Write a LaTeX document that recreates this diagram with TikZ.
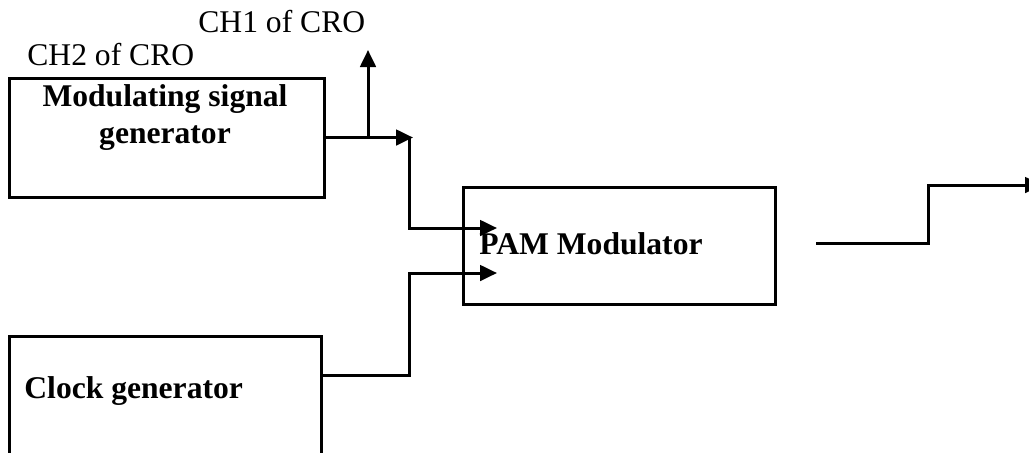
\documentclass[tikz,border=0pt]{standalone}
\usepackage{fontspec}
\setmainfont{Liberation Serif}
\usetikzlibrary{arrows.meta}
\begin{document}
\begin{tikzpicture}[x=0.5pt,y=-0.5pt,
  box/.style={draw,line width=1.5pt,inner sep=0pt},
  wire/.style={line width=1.5pt},
  arr/.style={wire,-{Triangle[length=8.5pt,width=7.8pt]}},
  lbl/.style={inner sep=0pt,font=\fontsize{15.8pt}{18.8pt}\selectfont},
  blbl/.style={lbl,font=\fontsize{15.8pt}{18.8pt}\selectfont\bfseries}]
\useasboundingbox (0,0) rectangle (1029,452);
\clip (0,0) rectangle (1029,452);
% boxes
\node[box,minimum width=157.5pt,minimum height=59.5pt] (msg) at (166.5,137.5) {};
\node[box,minimum width=156pt,minimum height=67pt] (clk) at (165,403) {};
\node[box,minimum width=156pt,minimum height=58.5pt] (pam) at (619,245.5) {};
% texts
\node[blbl,anchor=base] (msgt1) at (165,106) {Modulating signal};
\node[blbl,anchor=base] (msgt2) at (165,143) {generator};
\node[blbl,anchor=base west] (clkt) at (24,398) {Clock generator};
\node[blbl,anchor=base west] (pamt) at (479,254) {PAM Modulator};
\node[lbl,anchor=base west] (ch2) at (27,65) {CH2 of CRO};
\node[lbl,anchor=base west] (ch1) at (198,32) {CH1 of CRO};
% coordinates
\coordinate (m1) at (413,137.5);
\coordinate (jb) at (368,137.5);
\coordinate (up) at (368,50);
\coordinate (jd) at (409,137.5);
\coordinate (d1) at (409,228);
\coordinate (in1) at (497,228);
\coordinate (c0) at (321,375);
\coordinate (c1) at (409,375);
\coordinate (c2) at (409,273);
\coordinate (in2) at (497,273);
\coordinate (o0) at (816,243);
\coordinate (o1) at (928,243);
\coordinate (o2) at (928,185);
\coordinate (o3) at (1042,185);
% connectors
\draw[arr] (msg.east) -- (m1);
\draw[arr] (jb) -- (up);
\draw[arr] (jd) -- (d1) -- (in1);
\draw[arr] (c0) -- (c1) -- (c2) -- (in2);
\draw[arr] (o0) -- (o1) -- (o2) -- (o3);
\end{tikzpicture}
\end{document}
